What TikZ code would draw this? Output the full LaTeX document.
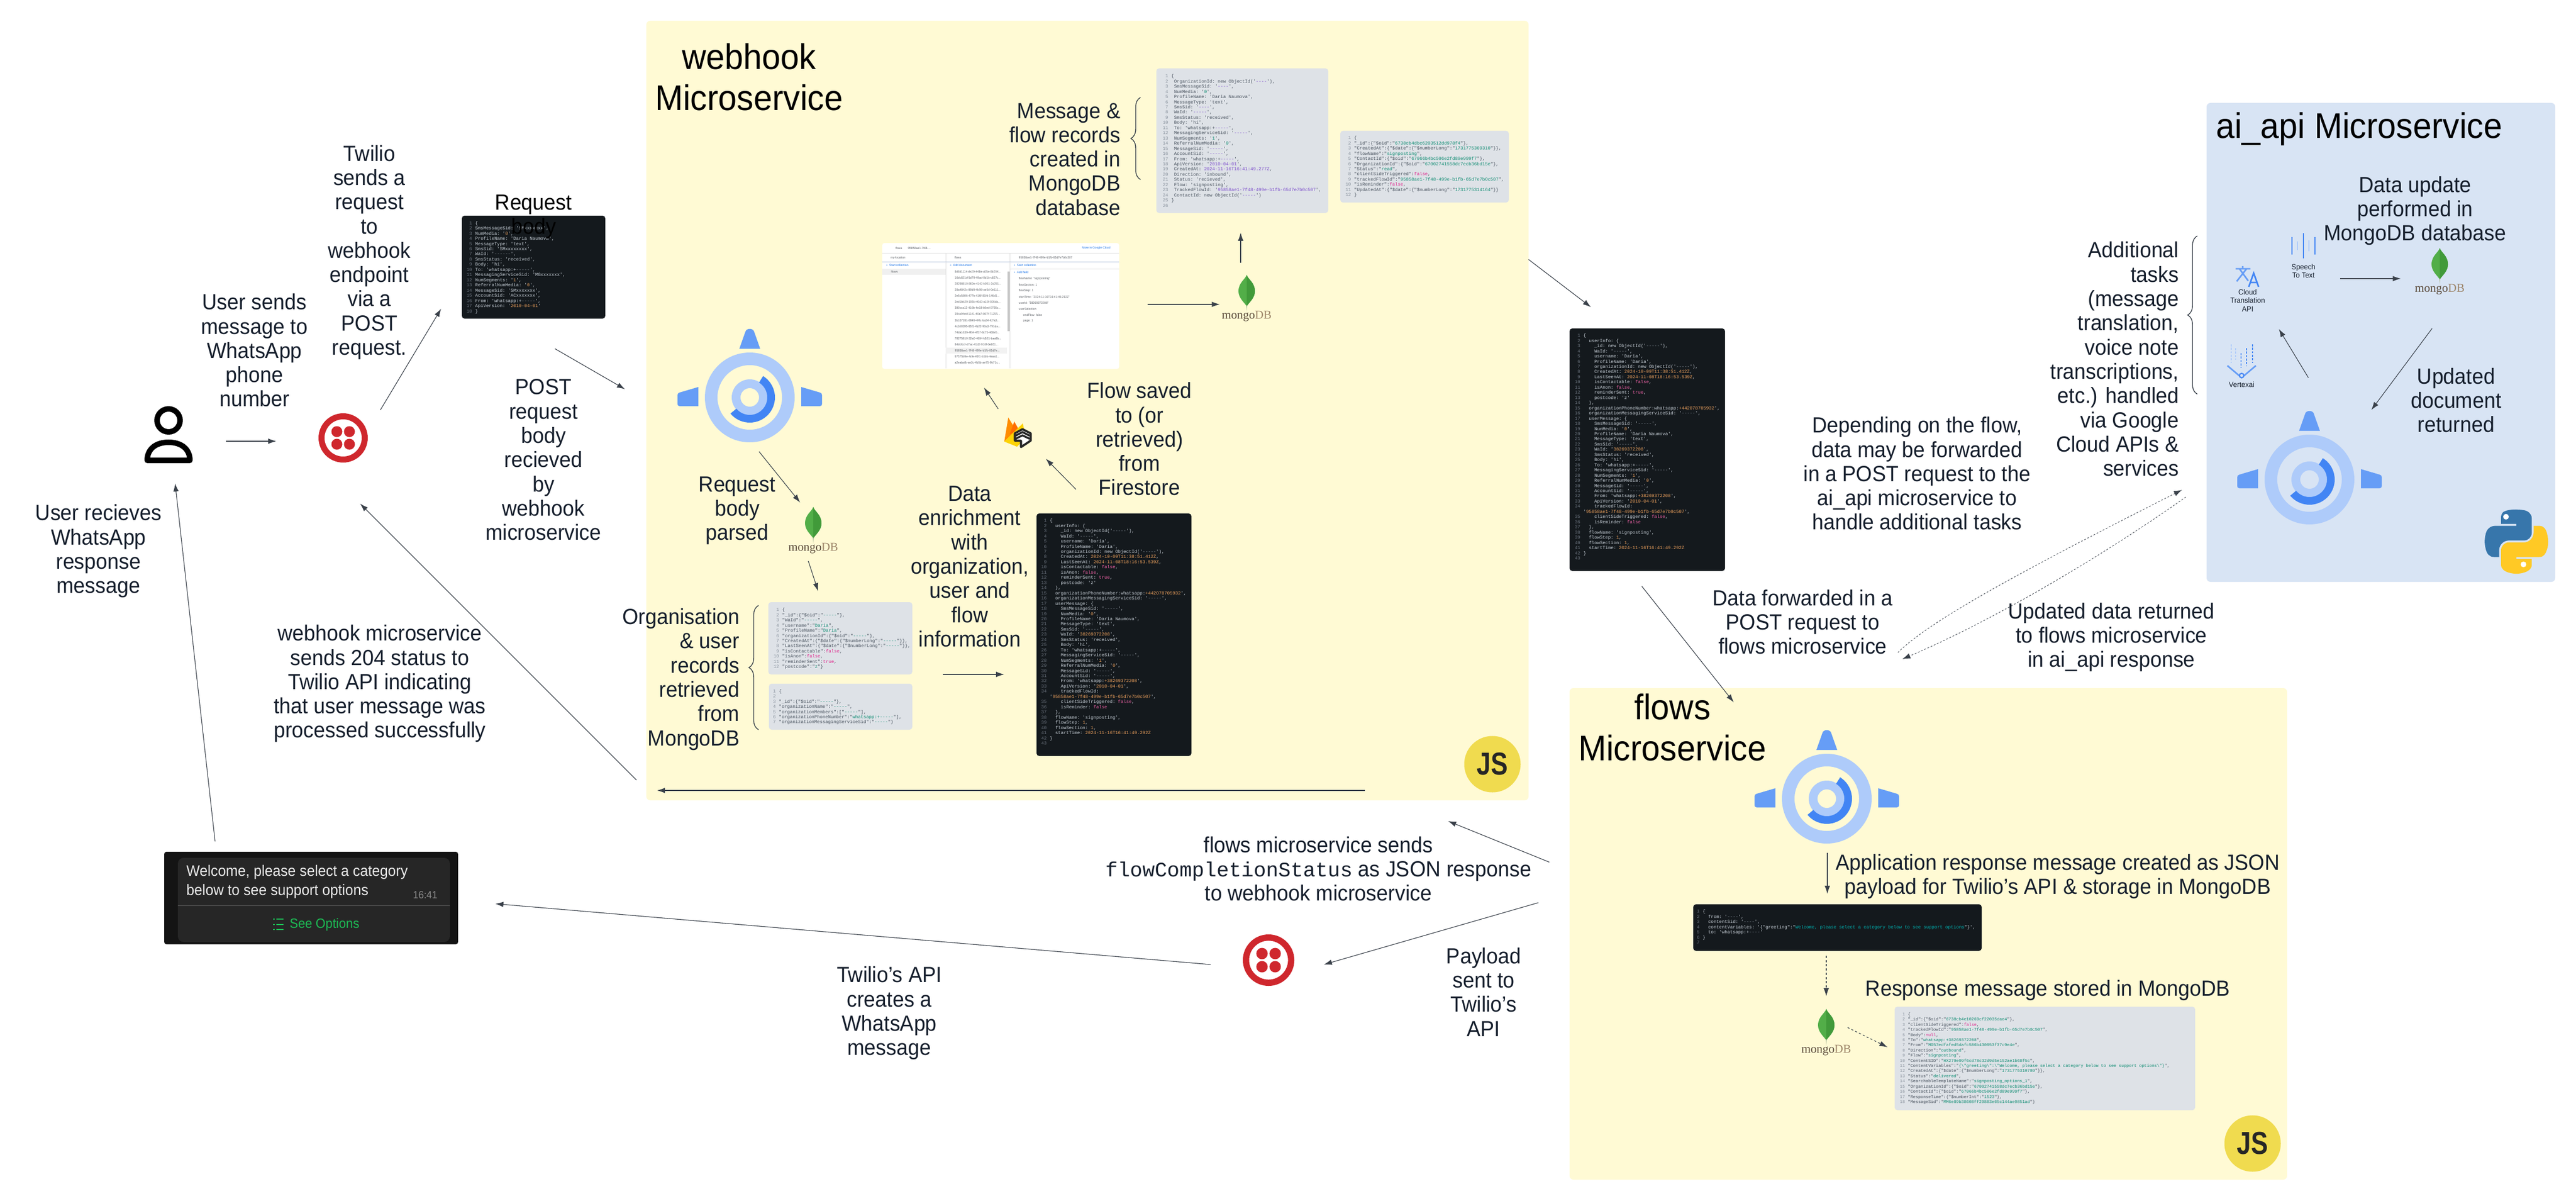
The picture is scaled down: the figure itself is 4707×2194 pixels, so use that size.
\documentclass[tikz,border=0pt]{standalone}
\usepackage{fontspec}
\usepackage{graphicx}
\setmainfont[FakeStretch=0.94]{Liberation Sans}
\setsansfont[FakeStretch=0.94]{Liberation Sans}
\setmonofont{Liberation Mono}
\newfontfamily\mongofam{Liberation Serif}
\usetikzlibrary{arrows.meta,decorations.pathreplacing,svg.path}
\definecolor{panelY}{HTML}{FFFAD4}
\definecolor{panelB}{HTML}{D8E4F4}
\definecolor{lnc}{HTML}{3A414A}
\definecolor{txt}{HTML}{151E2C}
\definecolor{darkbox}{HTML}{14191D}
\definecolor{greybox}{HTML}{DEE2E7}
\definecolor{dtx}{HTML}{C9D1D9}
\definecolor{dnum}{HTML}{6E7681}
\definecolor{dor}{HTML}{F0A35E}
\definecolor{dpk}{HTML}{EE62A6}
\definecolor{ddm}{HTML}{8B949E}
\definecolor{ltx}{HTML}{46505C}
\definecolor{lnum}{HTML}{8A939E}
\definecolor{ltl}{HTML}{0E8C72}
\definecolor{lpk}{HTML}{E0218A}
\definecolor{lpp}{HTML}{7C4DCC}
\definecolor{aeL}{HTML}{AECBFA}
\definecolor{aeM}{HTML}{669DF6}
\definecolor{aeD}{HTML}{4285F4}
\definecolor{twred}{HTML}{CF272D}
\definecolor{jsy}{HTML}{F0DB4F}
\definecolor{shotg}{HTML}{5F6368}
\definecolor{shotb}{HTML}{1A73E8}
\definecolor{pyblue}{HTML}{3776AB}
\definecolor{pyyel}{HTML}{FFC925}
\definecolor{wagreen}{HTML}{1DB954}
\newcommand\vor[1]{\textcolor{dor}{#1}}
\newcommand\vpk[1]{\textcolor{dpk}{#1}}
\newcommand\vdm[1]{\textcolor{ddm}{#1}}
\newcommand\vtl[1]{\textcolor{ltl}{#1}}
\newcommand\vlk[1]{\textcolor{lpk}{#1}}
\newcommand\vpp[1]{\textcolor{lpp}{#1}}
\newcommand\ind{\hspace*{1.2em}}
\newcommand\ones{\hspace*{.6em}}
\newcommand\Ln[2]{\makebox[1.2em][r]{\textcolor{nc}{#1}}\hspace*{.7em}#2\\}
\newcommand\userinfocode{%
\Ln{1}{\{}
\Ln{2}{\ind userInfo: \{}
\Ln{3}{\ind\ind \_id: new ObjectId('\vdm{-----}'),}
\Ln{4}{\ind\ind WaId: '\vdm{-----}',}
\Ln{5}{\ind\ind username: 'Daria',}
\Ln{6}{\ind\ind ProfileName: 'Daria',}
\Ln{7}{\ind\ind organizationId: new ObjectId('\vdm{-----}'),}
\Ln{8}{\ind\ind CreatedAt: \vor{2024-10-09T11:38:51.412Z},}
\Ln{9}{\ind\ind LastSeenAt: \vor{2024-11-08T18:16:53.539Z},}
\Ln{10}{\ind\ind isContactable: \vpk{false},}
\Ln{11}{\ind\ind isAnon: \vpk{false},}
\Ln{12}{\ind\ind reminderSent: \vpk{true},}
\Ln{13}{\ind\ind postcode: 'z'}
\Ln{14}{\ind \},}
\Ln{15}{\ind organizationPhoneNumber:whatsapp:\vor{+442078705932}',}
\Ln{16}{\ind organizationMessagingServiceSid: '\vdm{-----}',}
\Ln{17}{\ind userMessage: \{}
\Ln{18}{\ind\ind SmsMessageSid: '\vdm{-----}',}
\Ln{19}{\ind\ind NumMedia: '\vor{0}',}
\Ln{20}{\ind\ind ProfileName: 'Daria Naumova',}
\Ln{21}{\ind\ind MessageType: 'text',}
\Ln{22}{\ind\ind SmsSid: '\vdm{-----}',}
\Ln{23}{\ind\ind WaId: '\vor{38269372208}',}
\Ln{24}{\ind\ind SmsStatus: 'received',}
\Ln{25}{\ind\ind Body: 'hi',}
\Ln{26}{\ind\ind To: 'whatsapp:+\vdm{-----}',}
\Ln{27}{\ind\ind MessagingServiceSid: '\vdm{-----}',}
\Ln{28}{\ind\ind NumSegments: '\vor{1}',}
\Ln{29}{\ind\ind ReferralNumMedia: '\vor{0}',}
\Ln{30}{\ind\ind MessageSid: '\vdm{-----}',}
\Ln{31}{\ind\ind AccountSid: '\vdm{-----}',}
\Ln{32}{\ind\ind From: 'whatsapp:\vor{+38269372208}',}
\Ln{33}{\ind\ind ApiVersion: '\vor{2010-04-01}',}
\Ln{34}{\ind\ind trackedFlowId:}
\Ln{}{'\vor{95858ae1-7f48-499e-b1fb-65d7e7b0c507}',}
\Ln{35}{\ind\ind clientSideTriggered: \vpk{false},}
\Ln{36}{\ind\ind isReminder: \vpk{false}}
\Ln{37}{\ind \},}
\Ln{38}{\ind flowName: 'signposting',}
\Ln{39}{\ind flowStep: \vor{1},}
\Ln{40}{\ind flowSection: \vor{1},}
\Ln{41}{\ind startTime: \vor{2024-11-16T16:41:49.292Z}}
\Ln{42}{\}}
\Ln{43}{}}
\definecolor{stemc}{HTML}{B8C4A2}
\definecolor{leaf1}{HTML}{52AE48}
\definecolor{leaf2}{HTML}{419A3A}
\definecolor{mdark}{HTML}{5A4A3A}
\definecolor{mlight}{HTML}{9C8468}
\tikzset{
 arr/.style={draw=lnc,line width=.33pt,-{Latex[length=4.2pt,width=2.8pt]}},
 arrthick/.style={arr,line width=.65pt},
 arrdash/.style={arr,dash pattern=on 1.1pt off 1.1pt},
 arrthin/.style={arr,line width=.25pt,dash pattern=on .9pt off .9pt},
 bracec/.style={draw=lnc,line width=.4pt,decorate,decoration={brace,amplitude=5pt}},
 lab/.style={inner sep=0pt,text=txt,align=center,font=\fontsize{11.4}{12.6}\selectfont},
 labr/.style={lab,align=right,anchor=east},
 ttl/.style={inner sep=0pt,text=black,align=center,font=\fontsize{18.5}{21.3}\selectfont},
 codeD/.style={inner sep=0pt,anchor=north west,align=left,text=dtx,font=\fontsize{2.36}{2.69}\selectfont\ttfamily\colorlet{nc}{dnum}},
 codeL/.style={inner sep=0pt,anchor=north west,align=left,text=ltx,font=\fontsize{2.36}{2.69}\selectfont\ttfamily\colorlet{nc}{lnum}},
 codeLs/.style={codeL,font=\fontsize{2.2}{2.68}\selectfont\ttfamily\colorlet{nc}{lnum}},
 shot/.style={inner sep=0pt,anchor=west,text=shotg,font=\fontsize{1.6}{1.8}\selectfont},
 shotB/.style={shot,text=shotb},
 small/.style={inner sep=0pt,align=center,text=txt,font=\fontsize{3.9}{4.3}\selectfont},
 jsbadge/.style={circle,fill=jsy,inner sep=0pt,minimum size=29.3pt,text=black!85,font=\fontsize{16.5}{18}\selectfont\bfseries},
 mongoicon/.pic={
   \fill[stemc] (-1.3,52) -- (0,67) -- (1.3,52) -- cycle;
   \fill[leaf1] (0,0) .. controls (2,8) and (15,14) .. (15,30) .. controls (15,42) and (5,50) .. (1,56) -- (-1,56) .. controls (-5,50) and (-15,42) .. (-15,30) .. controls (-15,14) and (-2,8) .. (0,0) -- cycle;
   \fill[leaf2] (0,0) .. controls (2,8) and (15,14) .. (15,30) .. controls (15,42) and (5,50) .. (1,56) -- (0,56) -- cycle;
   \node[inner sep=0pt,font=\fontsize{6.2}{7}\selectfont\mongofam] (-t) at (0,76) {\textcolor{mdark}{mongo}\textcolor{mlight}{DB}};
 },
 engineicon/.pic={
   \fill[aeM] (-19,-89) -- (-8,-120) .. controls (-6,-127) and (6,-127) .. (8,-120) -- (19,-89) -- cycle;
   \fill[aeM] (-94,-19) -- (-94,16) -- (-128,16) .. controls (-131,16) and (-132,14) .. (-132,12) -- (-132,-4) .. controls (-132,-7) and (-131,-8) .. (-128,-9) -- cycle;
   \fill[aeM] (94,-19) -- (94,16) -- (128,16) .. controls (131,16) and (132,14) .. (132,12) -- (132,-4) .. controls (132,-7) and (131,-8) .. (128,-9) -- cycle;
   \fill[aeL,even odd rule] (0,0) circle[radius=82] (0,0) circle[radius=59];
   \fill[aeL,even odd rule] (0,0) circle[radius=33] (0,0) circle[radius=17];
   \fill[aeD] (-58:32) arc[start angle=-58,end angle=140,radius=32] -- (140:46) arc[start angle=140,end angle=-58,radius=46] -- cycle;
 },
 twilioicon/.pic={
   \fill[twred,even odd rule] (0,0) circle[radius=45] (0,0) circle[radius=34];
   \fill[twred] (-11.5,-11.5) circle[radius=10] (11.5,-11.5) circle[radius=10] (-11.5,11.5) circle[radius=10] (11.5,11.5) circle[radius=10];
 },
}
\begin{document}
\begin{tikzpicture}[x=0.01cm,y=-0.01cm]
\useasboundingbox (0,0) rectangle (4707,2194);
\fill[white] (0,0) rectangle (4707,2194);

% ---- panels
\fill[panelY,rounded corners=2pt] (1181,38) rectangle (2793,1462);
\fill[panelY,rounded corners=2pt] (2868,1257) rectangle (4179,2155);
\fill[panelB,rounded corners=2pt] (4032,188) rectangle (4669,1063);

% ---- person
\draw[line width=2.85pt] (308,768) circle[radius=21];
\draw[line width=2.85pt,line join=round] (269,841) .. controls (269,820) and (285,808) .. (308,808) .. controls (331,808) and (347,820) .. (347,841) -- cycle;

% ---- twilio icons
\pic (tw1) at (627,800) {twilioicon};
\pic[scale=1.045] (tw2) at (2318,1754) {twilioicon};

% ---- request body
\fill[darkbox,rounded corners=1.4pt] (844,394) rectangle (1106,582);
\node[codeD] (reqcode) at (852,403.5) {%
\Ln{1}{\{}
\Ln{2}{SmsMessageSid: 'SMxxxxxxx',}
\Ln{3}{NumMedia: '\vor{0}',}
\Ln{4}{ProfileName: 'Daria Naumova',}
\Ln{5}{MessageType: 'text',}
\Ln{6}{SmsSid: 'SMxxxxxxxx',}
\Ln{7}{WaId: '\vdm{------}',}
\Ln{8}{SmsStatus: 'received',}
\Ln{9}{Body: 'hi',}
\Ln{10}{To: 'whatsapp:+\vdm{-----}',}
\Ln{11}{MessagingServiceSid: 'MGxxxxxxx',}
\Ln{12}{NumSegments: '\vor{1}',}
\Ln{13}{ReferralNumMedia: '\vor{0}',}
\Ln{14}{MessageSid: 'SMxxxxxxx',}
\Ln{15}{AccountSid: 'ACxxxxxxx',}
\Ln{16}{From: 'whatsapp:+\vdm{-----}',}
\Ln{17}{ApiVersion: '\vor{2010-04-01}'}
\Ln{18}{\}}};
\node[lab,text=black] (reqlab) at (975,396) {Request\\body};

% ---- left labels
\node[lab] (l1) at (465,640) {User sends\\message to\\WhatsApp\\phone\\number};
\node[lab] (l2) at (675,461) {Twilio\\sends a\\request\\to\\webhook\\endpoint\\via a\\POST\\request.};
\node[lab] (l3) at (993,840) {POST\\request\\body\\recieved\\by\\webhook\\microservice};
\node[lab] (l4) at (180,1007) {User recieves\\WhatsApp\\response\\message};
\node[lab] (l5) at (694,1249) {webhook microservice\\sends 204 status to\\Twilio API indicating\\that user message was\\processed successfully};

% ---- webhook microservice
\node[ttl] (t1) at (1369,141) {webhook\\Microservice};
\pic (ae1) at (1370,726) {engineicon};
\node[labr] (w1) at (2048,291) {Message \&\\flow records\\created in\\MongoDB\\database};
\draw[bracec] (2084,328) -- (2084,178);
\fill[greybox,rounded corners=1.4pt] (2113,125) rectangle (2427,389);
\node[codeL] (msgcode) at (2124,135) {%
\Ln{1}{\{}
\Ln{2}{\ones OrganizationId: new ObjectId('\vpp{----}'),}
\Ln{3}{\ones SmsMessageSid: '\vpp{----}',}
\Ln{4}{\ones NumMedia: '\vtl{0}',}
\Ln{5}{\ones ProfileName: 'Daria Naumova',}
\Ln{6}{\ones MessageType: 'text',}
\Ln{7}{\ones SmsSid: '\vpp{----}',}
\Ln{8}{\ones WaId: '\vpp{-----}',}
\Ln{9}{\ones SmsStatus: 'received',}
\Ln{10}{\ones Body: 'hi',}
\Ln{11}{\ones To: 'whatsapp:+\vpp{-----}',}
\Ln{12}{\ones MessagingServiceSid: '\vpp{-----}',}
\Ln{13}{\ones NumSegments: '\vtl{1}',}
\Ln{14}{\ones ReferralNumMedia: '\vtl{0}',}
\Ln{15}{\ones MessageSid: '\vpp{-----}',}
\Ln{16}{\ones AccountSid: '\vpp{-----}',}
\Ln{17}{\ones From: 'whatsapp:+\vpp{-----}',}
\Ln{18}{\ones ApiVersion: '\vpp{2010-04-01}',}
\Ln{19}{\ones CreatedAt: \vpp{2024-11-16T16:41:49.277Z},}
\Ln{20}{\ones Direction: 'inbound',}
\Ln{21}{\ones Status: 'recieved',}
\Ln{22}{\ones Flow: 'signposting',}
\Ln{23}{\ones TrackedFlowId: '\vpp{95858ae1-7f48-499e-b1fb-65d7e7b0c507}',}
\Ln{24}{\ones ContactId: new ObjectId('\vpp{-----}')}
\Ln{25}{\}}
\Ln{26}{}};
\fill[greybox,rounded corners=1.4pt] (2449,239) rectangle (2757,370);
\node[codeL] (flowcode) at (2458,248) {%
\Ln{1}{\{}
\Ln{2}{"\_id":\{"\$oid":"\vtl{6738cb4dbc6203512dd978f4}"\},}
\Ln{3}{"CreatedAt":\{"\$date":\{"\$numberLong":"\vtl{1731775309310}"\}\},}
\Ln{4}{"flowName":"\vtl{signposting}",}
\Ln{5}{"ContactId":\{"\$oid":"\vtl{67066b4bc506e2fd89e999f7}"\},}
\Ln{6}{"OrganizationId":\{"\$oid":"\vtl{67002741558dc7ecb36bd15e}"\},}
\Ln{7}{"Status":"\vtl{read}",}
\Ln{8}{"clientSideTriggered":\vlk{false},}
\Ln{9}{"trackedFlowId":"\vtl{95858ae1-7f48-499e-b1fb-65d7e7b0c507}",}
\Ln{10}{"isReminder":\vlk{false},}
\Ln{11}{"UpdatedAt":\{"\$date":\{"\$numberLong":"\vtl{1731775314164}"\}\}}
\Ln{12}{\}}};

% firestore screenshot
\fill[white,rounded corners=1.2pt] (1612,444) rectangle (2045,674);
\begin{scope}[shift={(1605,440)},scale=0.33333]
 \draw[gray!25,line width=.2pt] (20,68) -- (1320,68) (370,68) -- (370,700) (722,68) -- (722,700) (722,153) -- (1320,153) (20,153) -- (370,153);
 \draw[aeL!70!gray,line width=.25pt] (20,115) -- (1320,115);
 \fill[gray!12] (20,153) rectangle (370,186);
 \fill[gray!10] (370,584) rectangle (705,617);
 \fill[gray!45] (707,168) rectangle (719,495);
 \node[shot] (s0) at (92,40) {flows};
 \node[shot] (s0a) at (160,40) {95858ae1-7f48-...};
 \node[shotB] (s0b) at (1115,40) {More in Google Cloud};
 \node[shot] (s1) at (65,92) {my-location};
 \node[shot] (s2) at (416,92) {flows};
 \node[shot] (s3) at (768,92) {95858ae1-7f48-499e-b1fb-65d7e7b0c507};
 \node[shotB] (s4) at (40,134) {+\ \ Start collection};
 \node[shotB] (s5) at (390,134) {+\ \ Add document};
 \node[shotB] (s6) at (740,134) {+\ \ Start collection};
 \node[shot] (s7) at (68,170) {flows};
 \node[shotB] (s8) at (740,172) {+\ \ Add field};
 \foreach \i/\v/\t in {a/170/8d6d1114-de29-448e-a55e-8b294,b/203/16dc821d-5d79-49ad-8d1b-c827c,c/236/28298810-860e-4142-b051-3c291,d/269/28a4842c-89d9-4b98-ae5d-0e111,e/302/2e5c5806-477b-416f-81fd-146d1,f/335/2ed1bb29-195b-40d3-a15f-026da,g/368/380cca12-410b-4e18-b5ed-0735c,h/401/39ca94ed-1141-40a7-867f-71255,i/435/3b157281-8949-4f4c-ba34-fc7a3,j/468/4c160395-65f1-4b22-90a3-791da,k/501/74da1639-4f04-4f57-8c75-468e5,l/534/78275810-32a0-4684-b521-baa8b,m/567/84dcfccf-d7ac-41d2-916f-0eb51,n/600/95858ae1-7f48-499e-b1fb-65d7e,o/633/97575b9e-4cfe-46f1-b1bb-4eaa1,p/666/a2eabafb-ae2c-4b5b-ae75-9b71c}
  {\node[shot] (row\i) at (417,\v) {\t...};}
 \node[shot] (f1) at (768,207) {flowName: "signposting"};
 \node[shot] (f2) at (768,240) {flowSection: 1};
 \node[shot] (f3) at (768,273) {flowStep: 1};
 \node[shot] (f4) at (768,306) {startTime: "2024-11-16T16:41:49.292Z"};
 \node[shot] (f5) at (768,339) {userId: "38269372208"};
 \node[shot] (f6) at (768,372) {userSelection};
 \node[shot] (f7) at (792,405) {endFlow: false};
 \node[shot] (f8) at (792,438) {page: 1};
\end{scope}
\pic (m1) at (2278,502) {mongoicon};
\pic (m2) at (1486,926) {mongoicon};

% firebase
\begin{scope}[shift={(1815,750)},scale=0.33333]
 \fill[orange!90!yellow] (60,170) -- (82,38) -- (125,108) -- cycle;
 \fill[orange!85!red] (90,130) -- (115,60) -- (140,105) -- cycle;
 \fill[yellow!70!orange] (60,170) -- (162,70) -- (178,150) -- (130,198) -- cycle;
 \fill[white,draw=black!85,line width=1.1pt,line join=round] (118,125) -- (160,102) -- (205,125) -- (205,165) -- (152,200) -- (152,165) -- (118,165) -- cycle;
 \draw[black!85,line width=1pt] (122,138) -- (160,118) -- (200,138) (122,155) -- (160,136) -- (200,155);
\end{scope}
\node[lab] (w2) at (2082,802) {Flow saved\\to (or\\retrieved)\\from\\Firestore};
\node[lab] (w3) at (1347,933) {Request\\body\\parsed};
\node[lab] (w4) at (1772,1035) {Data\\enrichment\\with\\organization,\\user and\\flow\\information};
\node[labr] (w5) at (1352,1241) {Organisation\\\& user\\records\\retrieved\\from\\MongoDB};
\draw[bracec] (1386,1333) -- (1386,1106);
\fill[greybox,rounded corners=1.4pt] (1404,1100) rectangle (1667,1232);
\node[codeL] (usercode) at (1413,1110) {%
\Ln{1}{\{}
\Ln{2}{"\_id":\{"\$oid":"\vtl{-----}"\},}
\Ln{3}{"WaId":"\vtl{-----}",}
\Ln{4}{"username":"\vtl{Daria}",}
\Ln{5}{"ProfileName":"\vtl{Daria}",}
\Ln{6}{"organizationId":\{"\$oid":"\vtl{-----}"\},}
\Ln{7}{"CreatedAt":\{"\$date":\{"\$numberLong":"\vtl{-----}"\}\},}
\Ln{8}{"LastSeenAt":\{"\$date":\{"\$numberLong":"\vtl{-----}"\}\},}
\Ln{9}{"isContactable":\vlk{false},}
\Ln{10}{"isAnon":\vlk{false},}
\Ln{11}{"reminderSent":\vlk{true},}
\Ln{12}{"postcode":"\vtl{z}"\}}};
\fill[greybox,rounded corners=1.4pt] (1405,1249) rectangle (1667,1333);
\node[codeL] (orgcode) at (1407,1258.5) {%
\Ln{1}{\{}
\Ln{2}{}
\Ln{3}{"\_id":\{"\$oid":"\vtl{-----}"\},}
\Ln{4}{"organizationName":"\vtl{-----}",}
\Ln{5}{"organizationMembers":["\vtl{-----}"],}
\Ln{6}{"organizationPhoneNumber":"\vtl{whatsapp:+-----}"],}
\Ln{7}{"organizationMessagingServiceSid":"\vtl{-----}"\}}};
\fill[darkbox,rounded corners=1.4pt] (1894,938) rectangle (2177,1381);
\node[codeD] (bigcode) at (1902,947) {\userinfocode};
\node[jsbadge] (js1) at (2727,1396) {\scalebox{.85}[1]{JS}};

% ---- right dark code box
\fill[darkbox,rounded corners=1.4pt] (2868,600) rectangle (3152,1043);
\node[codeD] (bigcodeb) at (2877,609) {\userinfocode};

% ---- labels between
\node[lab] (m3) at (3294,1136) {Data forwarded in a\\POST request to\\flows microservice};
\node[lab] (m4) at (3503,865) {Depending on the flow,\\data may be forwarded\\in a POST request to the\\ai\_api microservice to\\handle additional tasks};
\node[lab] (m5) at (3858,1164) {Updated data returned\\to flows microservice\\in ai\_api response};
\node[labr] (m6) at (3982,656) {Additional\\tasks\\(message\\translation,\\voice note\\transcriptions,\\etc.) handled\\via Google\\Cloud APIs \&\\services};
\draw[bracec] (4015,720) -- (4015,431);

% ---- ai_api
\node[ttl] (t3) at (4311,236) {ai\_api Microservice};
\node[lab] (a1) at (4413,385) {Data update\\performed in\\MongoDB database};
\node[lab] (a2) at (4488,731) {Updated\\document\\returned};
\pic (ae3) at (4220,876) {engineicon};
\pic (m3i) at (4458,453) {mongoicon};
% speech icon
\foreach \x/\h/\c in {4188/16/aeD,4198/8/aeL,4209/23/aeD,4219/10/aeL,4230/16/aeD}
  {\draw[\c,line width=.6pt] (\x,449-\h) -- (\x,449+\h);}
\node[small] (a3) at (4209,495) {Speech\\To Text};
% translate icon
\begin{scope}[line width=.8pt,aeM]
 \draw (4085,491) -- (4112,491) (4098,486) -- (4098,491) (4092,491) -- (4108,513) (4105,491) -- (4087,514);
 \draw[aeD] (4109,524) -- (4118,499) -- (4127,524) (4112,516) -- (4124,516);
\end{scope}
\node[small] (a4) at (4107,549) {Cloud\\Translation\\API};
% vertex icon
\foreach \x/\a/\b/\c in {4077/629/663/aeL,4085/636/657/aeL,4095/645/672/aeM,4105/636/669/aeD,4116/629/663/aeD}
  {\draw[\c,line width=.7pt,dash pattern=on 1pt off .8pt] (\x,\a) -- (\x,\b);}
\draw[aeM,line width=.8pt] (4070,668) -- (4096,690) -- (4122,668);
\draw[aeD,fill=panelB,line width=.6pt] (4096,686) circle[radius=4];
\node[small] (a5) at (4096,703) {Vertexai};
% python logo
\begin{scope}[shift={(4540,930)},xscale=.2973,yscale=-.2973]
 \fill[pyblue] svg {M 54.9 0.7 c -4.6 0 -8.9 0.4 -12.8 1.1 c -11.3 2 -13.4 6.2 -13.4 13.9 v 10.2 h 26.8 v 3.4 h -36.8 c -7.8 0 -14.6 4.7 -16.7 13.6 c -2.5 10.2 -2.6 16.6 0 27.2 c 1.9 7.9 6.4 13.6 14.2 13.6 h 9.2 v -12.2 c 0 -8.8 7.6 -16.6 16.7 -16.6 h 26.8 c 7.4 0 13.4 -6.1 13.4 -13.5 v -25.5 c 0 -7.3 -6.1 -12.7 -13.4 -13.9 c -4.6 -0.8 -9.4 -1.1 -14 -1.1 z};
 \fill[pyyel] svg {M 85.6 29.3 v 11.9 c 0 9.2 -7.8 17 -16.7 17 h -26.8 c -7.3 0 -13.4 6.3 -13.4 13.6 v 25.5 c 0 7.3 6.3 11.5 13.4 13.6 c 8.5 2.5 16.7 3 26.8 0 c 6.8 -2 13.4 -5.9 13.4 -13.6 v -10.2 h -26.8 v -3.4 h 40.2 c 7.8 0 10.7 -5.4 13.4 -13.6 c 2.8 -8.4 2.7 -16.5 0 -27.2 c -1.9 -7.7 -5.6 -13.6 -13.4 -13.6 z};
\end{scope}
\fill[white] (4579,944) circle[radius=5.2] (4611,1031) circle[radius=5.2];

% ---- flows
\node[ttl] (t2) at (3056,1329) {flows\\Microservice};
\pic (ae2) at (3338,1459) {engineicon};
\node[lab] (f10) at (3760,1601) {Application response message created as JSON\\payload for Twilio's API \& storage in MongoDB};
\fill[darkbox,rounded corners=1.4pt] (3094,1652) rectangle (3621,1737);
\node[codeD] (respcode) at (3095,1661) {%
\Ln{1}{\{}
\Ln{2}{\ind from: '\vdm{----}',}
\Ln{3}{\ind contentSid: '\vdm{----}',}
\Ln{4}{\ind contentVariables: '\{"greeting":"\textcolor{teal!60!cyan}{Welcome, please select a category below to see support options}"\}',}
\Ln{5}{\ind to: 'whatsapp:+\vdm{----}'}
\Ln{6}{\}}
\Ln{7}{}};
\node[lab] (f11) at (3742,1809) {Response message stored in MongoDB};
\pic (m4i) at (3337,1843) {mongoicon};
\fill[greybox,rounded corners=1.4pt] (3462,1839) rectangle (4011,2028);
\node[codeLs] (storedcode) at (3471,1849) {%
\Ln{1}{\{}
\Ln{2}{"\_id":\{"\$oid":"\vtl{6738cb4e10269cf22035dae4}"\},}
\Ln{3}{"clientSideTriggered":\vlk{false},}
\Ln{4}{"trackedFlowId":"\vtl{95858ae1-7f48-499e-b1fb-65d7e7b0c507}",}
\Ln{5}{"Body":\vlk{null},}
\Ln{6}{"To":"\vtl{whatsapp:+38269372208}",}
\Ln{7}{"From":"\vtl{MG57edfafed5dafc586b430953f37c9e4e}",}
\Ln{8}{"Direction":"\vtl{outbound}",}
\Ln{9}{"Flow":"\vtl{signposting}",}
\Ln{10}{"ContentSID":"\vtl{HX279e99f6cd78c32d9d5e152ae1b68f5c}",}
\Ln{11}{"ContentVariables":"\vtl{\{\textbackslash"greeting\textbackslash":\textbackslash"Welcome, please select a category below to see support options\textbackslash"\}}",}
\Ln{12}{"CreatedAt":\{"\$date":\{"\$numberLong":"\vtl{1731775310780}"\}\},}
\Ln{13}{"Status":"\vtl{delivered}",}
\Ln{14}{"SearchableTemplateName":"\vtl{signposting\_options\_1}",}
\Ln{15}{"OrganizationId":\{"\$oid":"\vtl{67002741558dc7ecb36bd15e}"\},}
\Ln{16}{"ContactId":\{"\$oid":"\vtl{67066b4bc506e2fd89e999f7}"\},}
\Ln{17}{"ResponseTime":\{"\$numberInt":"\vtl{1523}"\},}
\Ln{18}{"MessageSid":"\vtl{MM6e89b38608ff29883e05c144ae9851ad}"\}}};
\node[jsbadge] (js2) at (4116,2089) {\scalebox{.85}[1]{JS}};

% ---- bottom labels
\node[lab] (b1) at (2409,1587) {flows microservice sends\\{\fontsize{10.7}{12.6}\selectfont\texttt{flowCompletionStatus}} as JSON response\\to webhook microservice};
\node[lab] (b2) at (1625,1851) {Twilio's API\\creates a\\WhatsApp\\message};
\node[lab] (b3) at (2711,1812) {Payload\\sent to\\Twilio's\\API};

% ---- whatsapp message
\fill[black!92,rounded corners=1.2pt] (300,1556) rectangle (837,1725);
\fill[black!85,rounded corners=3pt] (325,1567) rectangle (822,1721);
\draw[white!35!black,line width=.25pt] (325,1654) -- (822,1654);
\node[inner sep=0pt,anchor=west,text=white!92!black,font=\fontsize{7.9}{8}\selectfont] (wa1) at (340,1593) {Welcome, please select a category};
\node[inner sep=0pt,anchor=west,text=white!92!black,font=\fontsize{7.9}{8}\selectfont] (wa2) at (340,1628) {below to see support options};
\node[inner sep=0pt,text=white!55!black,font=\fontsize{5.4}{6}\selectfont] (wa3) at (777,1635) {16:41};
\node[inner sep=0pt,text=wagreen,font=\fontsize{7}{8}\selectfont] (wa4) at (593,1689) {See Options};
\draw[wagreen,line width=.5pt] (499,1679) -- (502,1679) (505,1679) -- (518,1679) (499,1689) -- (502,1689) (505,1689) -- (518,1689) (499,1698) -- (502,1698) (505,1698) -- (518,1698);

% ---- connectors
\coordinate (a1s) at (413,806); \coordinate (a1e) at (505,806); \draw[arr] (a1s) -- (a1e);
\coordinate (a2s) at (695,749); \coordinate (a2e) at (806,564); \draw[arr] (a2s) -- (a2e);
\coordinate (a3s) at (1014,637); \coordinate (a3e) at (1142,711); \draw[arr] (a3s) -- (a3e);
\coordinate (a4s) at (1163,1425); \coordinate (a4e) at (658,920); \draw[arr] (a4s) -- (a4e);
\coordinate (a5s) at (393,1537); \coordinate (a5e) at (320,883); \draw[arr] (a5s) -- (a5e);
\coordinate (a6s) at (2494,1444); \coordinate (a6e) at (1200,1444); \draw[arrthick] (a6s) -- (a6e);
\coordinate (a7s) at (1387,825); \coordinate (a7e) at (1462,918); \draw[arr] (a7s) -- (a7e);
\coordinate (a8s) at (1477,1025); \coordinate (a8e) at (1495,1080); \draw[arr] (a8s) -- (a8e);
\coordinate (a9s) at (1723,1232); \coordinate (a9e) at (1835,1232); \draw[arr] (a9s) -- (a9e);
\coordinate (a10s) at (1966,894); \coordinate (a10e) at (1911,838); \draw[arr] (a10s) -- (a10e);
\coordinate (a11s) at (1824,747); \coordinate (a11e) at (1798,708); \draw[arr] (a11s) -- (a11e);
\coordinate (a12s) at (2097,556); \coordinate (a12e) at (2229,556); \draw[arr] (a12s) -- (a12e);
\coordinate (a13s) at (2267,480); \coordinate (a13e) at (2267,425); \draw[arr] (a13s) -- (a13e);
\coordinate (a14s) at (2793,474); \coordinate (a14e) at (2907,561); \draw[arr] (a14s) -- (a14e);
\coordinate (a15s) at (3000,1071); \coordinate (a15e) at (3168,1283); \draw[arr] (a15s) -- (a15e);
\coordinate (a16s) at (3468,1192); \coordinate (a16e) at (3987,895); \draw[arrthin] (a16s) .. controls (3530,1130) and (3720,1030) .. (a16e);
\coordinate (a17s) at (3994,908); \coordinate (a17e) at (3476,1204); \draw[arrthin] (a17s) .. controls (3850,1010) and (3650,1130) .. (a17e);
\coordinate (a18s) at (2831,1575); \coordinate (a18e) at (2646,1500); \draw[arr] (a18s) -- (a18e);
\coordinate (a19s) at (2811,1649); \coordinate (a19e) at (2419,1762); \draw[arr] (a19s) -- (a19e);
\coordinate (a20s) at (2212,1762); \coordinate (a20e) at (905,1651); \draw[arr] (a20s) -- (a20e);
\coordinate (a21s) at (3339,1558); \coordinate (a21e) at (3339,1633); \draw[arr] (a21s) -- (a21e);
\coordinate (a22s) at (3337,1746); \coordinate (a22e) at (3337,1820); \draw[arrdash] (a22s) -- (a22e);
\coordinate (a23s) at (3376,1877); \coordinate (a23e) at (3449,1913); \draw[arrdash] (a23s) -- (a23e);
\coordinate (a24s) at (4276,509); \coordinate (a24e) at (4387,509); \draw[arr] (a24s) -- (a24e);
\coordinate (a25s) at (4444,600); \coordinate (a25e) at (4333,749); \draw[arr] (a25s) -- (a25e);
\coordinate (a26s) at (4218,690); \coordinate (a26e) at (4164,601); \draw[arr] (a26s) -- (a26e);
\end{tikzpicture}
\end{document}
